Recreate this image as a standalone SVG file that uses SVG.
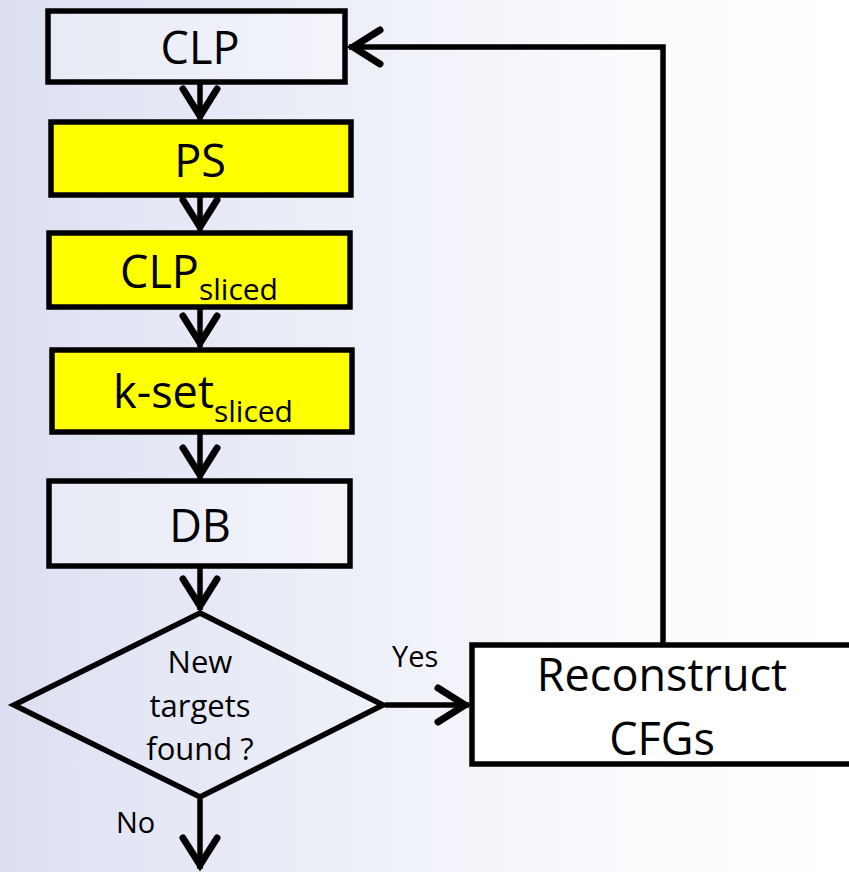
<svg xmlns="http://www.w3.org/2000/svg" width="849" height="872" viewBox="0 0 849 872">
<defs>
<linearGradient id="bg" x1="0" y1="0" x2="849" y2="0" gradientUnits="userSpaceOnUse">
<stop offset="0" stop-color="#dcdff1"/>
<stop offset="0.15" stop-color="#e3e6f4"/>
<stop offset="0.45" stop-color="#eff1f9"/>
<stop offset="0.75" stop-color="#fbfbfe"/>
<stop offset="1" stop-color="#ffffff"/>
</linearGradient>
<marker id="arr" viewBox="-40 -22 46 44" markerWidth="46" markerHeight="44" refX="0" refY="0" markerUnits="userSpaceOnUse" orient="auto">
<path d="M -31 -17 L -4 0 L -31 17" fill="none" stroke="#000" stroke-width="7" stroke-linecap="round" stroke-linejoin="miter"/>
</marker>
<style>
.box{stroke:#000;stroke-width:5.5}
.plain{fill:#ffffff;fill-opacity:0.3}
.yel{fill:#ffff00}
.lbl{font-family:"Open Sans","Noto Sans",sans-serif;fill:#000;text-anchor:middle}
.big{font-size:45px}
.mid{font-size:31px}
.sm{font-size:29px;font-family:"Open Sans","Noto Sans",sans-serif;fill:#000}
.sub{font-size:30px}
.con{fill:none;stroke:#000;stroke-width:5.5}
</style>
</defs>
<rect x="0" y="0" width="849" height="872" fill="url(#bg)"/>
<g id="connectors">
<line class="con" x1="200" y1="84" x2="200" y2="120" marker-end="url(#arr)"/>
<line class="con" x1="200" y1="197" x2="200" y2="231" marker-end="url(#arr)"/>
<line class="con" x1="200" y1="309" x2="200" y2="347" marker-end="url(#arr)"/>
<line class="con" x1="200" y1="434" x2="200" y2="479" marker-end="url(#arr)"/>
<line class="con" x1="200" y1="568" x2="200" y2="610" marker-end="url(#arr)"/>
<line class="con" x1="385" y1="705" x2="469" y2="705" marker-end="url(#arr)"/>
<polyline class="con" points="663,643 663,47 349,47" marker-end="url(#arr)"/>
<line class="con" x1="200" y1="799" x2="200" y2="869" marker-end="url(#arr)"/>
<text class="sm" x="392" y="667">Yes</text>
<text class="sm" x="116" y="833">No</text>
</g>
<g id="clp">
<rect class="box plain" x="48" y="11" width="297" height="71"/>
<text class="lbl big" x="200" y="64">CLP</text>
</g>
<g id="ps">
<rect class="box yel" x="51" y="122" width="300" height="73"/>
<text class="lbl big" x="200" y="177">PS</text>
</g>
<g id="clp-sliced">
<rect class="box yel" x="49" y="233" width="301" height="74"/>
<text class="lbl big" x="199" y="288">CLP<tspan class="sub" dy="12">sliced</tspan></text>
</g>
<g id="kset-sliced">
<rect class="box yel" x="52" y="350" width="300" height="82"/>
<text class="lbl big" x="203" y="408">k-set<tspan class="sub" dy="14">sliced</tspan></text>
</g>
<g id="db">
<rect class="box plain" x="49" y="481" width="301" height="85"/>
<text class="lbl big" x="200" y="542">DB</text>
</g>
<g id="decision">
<polygon class="box" fill="none" points="200,613 383,705 200,797 14,705"/>
<text class="lbl mid" x="200" y="673">New</text>
<text class="lbl mid" x="200" y="717">targets</text>
<text class="lbl mid" x="200" y="760">found ?</text>
</g>
<g id="reconstruct">
<rect class="box" fill="#ffffff" x="472" y="645" width="400" height="119"/>
<text class="lbl big" x="662" y="691">Reconstruct</text>
<text class="lbl big" x="662" y="755">CFGs</text>
</g>
</svg>
